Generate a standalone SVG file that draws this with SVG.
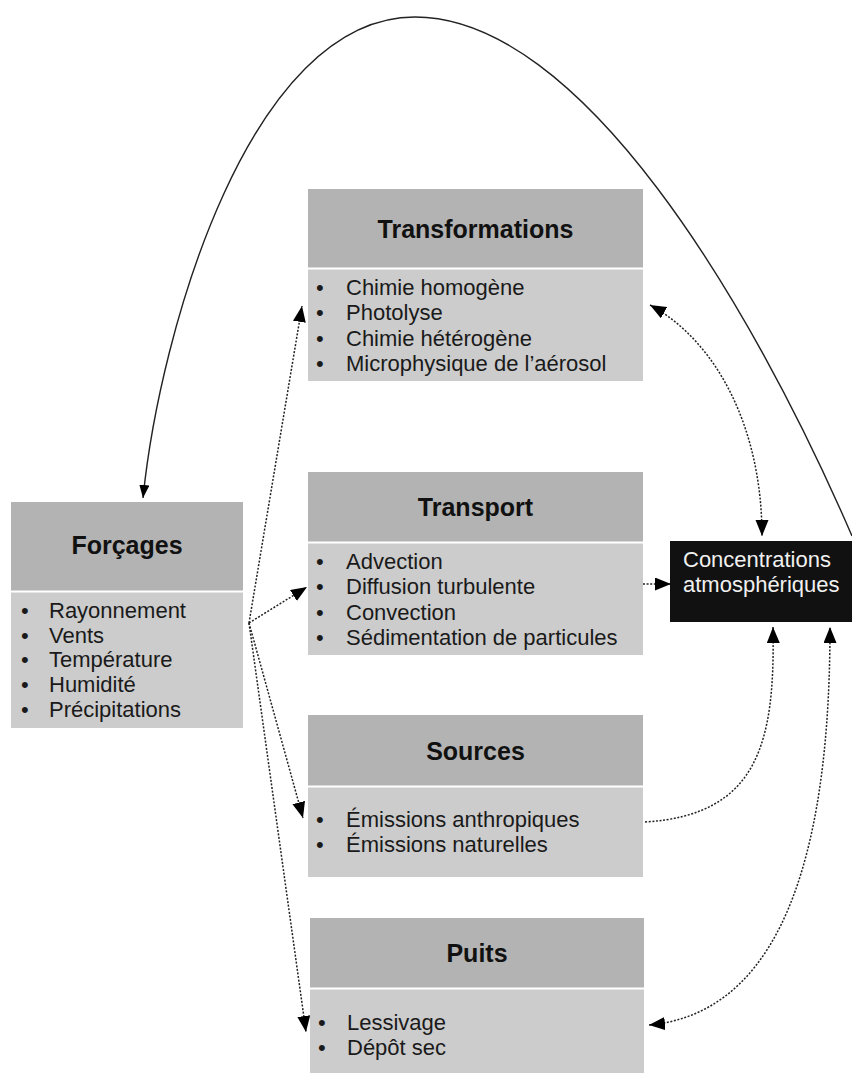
<svg xmlns="http://www.w3.org/2000/svg" width="852" height="1073" viewBox="0 0 852 1073">
<style>
.hd{fill:#b3b3b3}
.bd{fill:#cccccc}
.sep{stroke:#ffffff;stroke-width:2}
.ht{font-family:"Liberation Sans",Arial,sans-serif;font-weight:bold;font-size:25px;fill:#111;text-anchor:middle}
.bt{font-family:"Liberation Sans",Arial,sans-serif;font-size:22px;fill:#1a1a1a}
.ct{font-family:"Liberation Sans",Arial,sans-serif;font-size:22px;fill:#f0f0f0}
.dot{fill:none;stroke:#222;stroke-width:1.5;stroke-dasharray:2 1.6}
.sol{fill:none;stroke:#222;stroke-width:1.4}
</style>
<defs>
<marker id="ah" markerUnits="userSpaceOnUse" markerWidth="18" markerHeight="14" refX="16" refY="6.5" orient="auto-start-reverse" viewBox="0 0 18 14">
<path d="M0,0 L16,6.5 L0,13 Z" fill="#000"/>
</marker>
<marker id="as" markerUnits="userSpaceOnUse" markerWidth="14" markerHeight="11" refX="13" refY="5" orient="auto" viewBox="0 0 14 11">
<path d="M0,0 L13,5 L0,10 Z" fill="#000"/>
</marker>
</defs>
<rect width="852" height="1073" fill="#fff"/>

<g id="transformations">
<rect class="hd" x="308" y="189" width="335" height="79"/>
<rect class="bd" x="308" y="269" width="335" height="112"/>
<line class="sep" x1="308" y1="268.5" x2="643" y2="268.5"/>
<text class="ht" x="475.5" y="238">Transformations</text>
<g class="bt">
<text x="316" y="295">•</text><text x="346" y="295">Chimie homogène</text>
<text x="316" y="320">•</text><text x="346" y="320">Photolyse</text>
<text x="316" y="345.5">•</text><text x="346" y="345.5">Chimie hétérogène</text>
<text x="316" y="371">•</text><text x="346" y="371">Microphysique de l’aérosol</text>
</g>
</g>

<g id="forcages">
<rect class="hd" x="11" y="502" width="232" height="89"/>
<rect class="bd" x="11" y="592" width="232" height="136"/>
<line class="sep" x1="11" y1="591.5" x2="243" y2="591.5"/>
<text class="ht" x="127" y="554">Forçages</text>
<g class="bt">
<text x="21" y="618">•</text><text x="49" y="618">Rayonnement</text>
<text x="21" y="642.5">•</text><text x="49" y="642.5">Vents</text>
<text x="21" y="667">•</text><text x="49" y="667">Température</text>
<text x="21" y="692">•</text><text x="49" y="692">Humidité</text>
<text x="21" y="717">•</text><text x="49" y="717">Précipitations</text>
</g>
</g>

<g id="transport">
<rect class="hd" x="308" y="472" width="335" height="70"/>
<rect class="bd" x="308" y="543" width="335" height="112"/>
<line class="sep" x1="308" y1="542.5" x2="643" y2="542.5"/>
<text class="ht" x="475.5" y="516">Transport</text>
<g class="bt">
<text x="316" y="569">•</text><text x="346" y="569">Advection</text>
<text x="316" y="594">•</text><text x="346" y="594">Diffusion turbulente</text>
<text x="316" y="619.5">•</text><text x="346" y="619.5">Convection</text>
<text x="316" y="645">•</text><text x="346" y="645">Sédimentation de particules</text>
</g>
</g>

<g id="concentrations">
<rect x="670" y="541" width="182" height="81" fill="#111"/>
<text class="ct" x="683" y="567">Concentrations</text>
<text class="ct" x="683" y="592">atmosphériques</text>
</g>

<g id="sources">
<rect class="hd" x="308" y="715" width="335" height="71"/>
<rect class="bd" x="308" y="787" width="335" height="90"/>
<line class="sep" x1="308" y1="786.5" x2="643" y2="786.5"/>
<text class="ht" x="475.5" y="760">Sources</text>
<g class="bt">
<text x="316" y="827">•</text><text x="346" y="827">Émissions anthropiques</text>
<text x="316" y="852">•</text><text x="346" y="852">Émissions naturelles</text>
</g>
</g>

<g id="puits">
<rect class="hd" x="310" y="918" width="334" height="70"/>
<rect class="bd" x="310" y="989" width="334" height="90"/>
<line class="sep" x1="310" y1="988.5" x2="644" y2="988.5"/>
<text class="ht" x="477" y="962">Puits</text>
<g class="bt">
<text x="318" y="1030">•</text><text x="347" y="1030">Lessivage</text>
<text x="318" y="1055">•</text><text x="347" y="1055">Dépôt sec</text>
</g>
</g>

<g id="connectors">
<path class="sol" d="M852,536 C750,300 580,17 415,17 C250,17 160,330 143,498" marker-end="url(#as)"/>
<path class="dot" d="M249,623 L302,306" marker-end="url(#ah)"/>
<path class="dot" d="M249,623 L307,587" marker-end="url(#ah)"/>
<path class="dot" d="M249,623 L303,818" marker-end="url(#ah)"/>
<path class="dot" d="M249,623 L306,1032" marker-end="url(#ah)"/>
<path class="dot" d="M643,584 L671,584" marker-end="url(#ah)"/>
<path class="dot" d="M650,305 C718,342 762,430 762,536" marker-start="url(#ah)" marker-end="url(#ah)"/>
<path class="dot" d="M645,822 C760,815 775,740 773,627" marker-end="url(#ah)"/>
<path class="dot" d="M649,1025 C760,1015 830,900 830,627" marker-start="url(#ah)" marker-end="url(#ah)"/>
</g>
</svg>
